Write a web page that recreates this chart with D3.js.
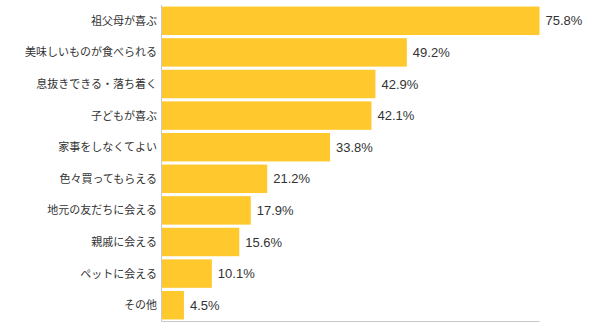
<!DOCTYPE html>
<html>
<head>
<meta charset="utf-8">
<script src="https://cdn.jsdelivr.net/npm/d3@7"></script>
<style>
  html, body { margin: 0; padding: 0; background: #fff; }
  svg { display: block; }
</style>
</head>
<body>
<svg id="chart" width="601" height="331"></svg>
<script>
// Reasons, in display order, and their share of respondents (%)
const categories = [
  "祖父母が喜ぶ",
  "美味しいものが食べられる",
  "息抜きできる・落ち着く",
  "子どもが喜ぶ",
  "家事をしなくてよい",
  "色々買ってもらえる",
  "地元の友だちに会える",
  "親戚に会える",
  "ペットに会える",
  "その他"
];
const values = [75.8, 49.2, 42.9, 42.1, 33.8, 21.2, 17.9, 15.6, 10.1, 4.5];

const svg = d3.select("#chart");
const plot = { left: 161.5, right: 539.5, top: 5, bottom: 321 };

const x = d3.scaleLinear()
  .domain([0, d3.max(values)])
  .range([plot.left, plot.right]);

const y = d3.scaleBand()
  .domain(categories)
  .range([plot.top, plot.bottom])
  .paddingInner(0.1)
  .paddingOuter(0.05);

// bars
svg.append("g")
  .selectAll("rect")
  .data(values)
  .join("rect")
  .attr("x", x(0) + 0.5)
  .attr("y", (d, i) => y(categories[i]))
  .attr("width", d => x(d) - x(0) - 0.5)
  .attr("height", y.bandwidth())
  .attr("fill", "#ffc92d");

// axis lines
svg.append("line")
  .attr("x1", plot.left).attr("x2", plot.left)
  .attr("y1", plot.top).attr("y2", plot.bottom + 0.5)
  .attr("stroke", "#c8c8c8").attr("stroke-width", 1);
svg.append("line")
  .attr("x1", plot.left).attr("x2", plot.right)
  .attr("y1", plot.bottom + 0.5).attr("y2", plot.bottom + 0.5)
  .attr("stroke", "#c8c8c8").attr("stroke-width", 1);

// category labels
svg.append("g")
  .selectAll("text")
  .data(categories)
  .join("text")
  .attr("x", 157)
  .attr("y", d => y(d) + y.bandwidth() / 2)
  .attr("dy", "0.36em")
  .attr("text-anchor", "end")
  .attr("font-family", "'Noto Sans CJK JP', sans-serif")
  .attr("font-size", 11)
  .attr("fill", "#333")
  .text(d => d);

// value labels
svg.append("g")
  .selectAll("text")
  .data(values)
  .join("text")
  .attr("x", d => x(d) + 6)
  .attr("y", (d, i) => y(categories[i]) + y.bandwidth() / 2)
  .attr("dy", "0.36em")
  .attr("font-family", "'Liberation Sans', Arial, sans-serif")
  .attr("font-size", 13)
  .attr("fill", "#333")
  .text(d => d.toFixed(1) + "%");
</script>
</body>
</html>
